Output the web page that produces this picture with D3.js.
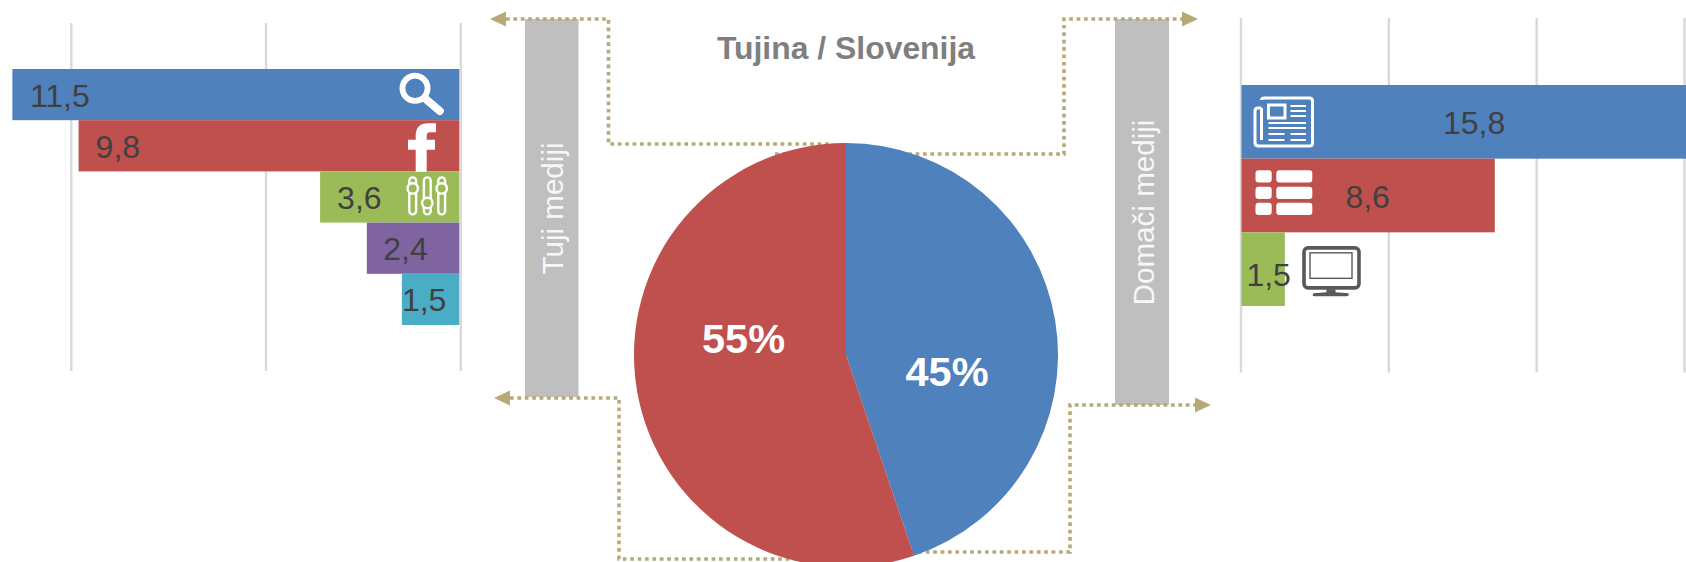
<!DOCTYPE html>
<html>
<head>
<meta charset="utf-8">
<script src="https://cdn.jsdelivr.net/npm/d3@7"></script>
<style>
html,body{margin:0;padding:0;background:#fff;overflow:hidden}
svg{display:block}
text{font-family:"Liberation Sans",Arial,sans-serif}
</style>
</head>
<body>
<svg id="c" width="1686" height="562" viewBox="0 0 1686 562"></svg>
<script>
// ---- data ----
const titleText = "Tujina / Slovenija";
const foreignLabel = "Tuji mediji";
const domesticLabel = "Domači mediji";
const foreignCats = ["Iskalniki","Facebook","Drugo","Portali","Ostalo"];
const foreignVals = [11.5,9.8,3.6,2.4,1.5];
const domesticCats = ["Tisk","Splet","TV"];
const domesticVals = [15.8,8.6,1.5];
const pieNames = ["Slovenija","Tujina"];
const pieVals = [44.8,55.2];
const foreignTicks = [0,5,10];
const domesticTicks = [0,5,10,15];
const barColors = ["#4f81bd","#c0504d","#9bbb59","#8064a2","#4bacc6"];

const fmt = v => String(v.toFixed(1)).replace(".",",");
const svg = d3.select("#c");
const LINE = "#b5aa78", GRID = "#d9d9d9", TXT = "#404040", BOX = "#bfbfbf";

// ---- scales ----
const xL = d3.scaleLinear().domain([0,10]).range([460.3,70.8]);
const yL = d3.scaleBand().domain(foreignCats).range([69,325]);
const xR = d3.scaleLinear().domain([0,15]).range([1240.5,1684]);
const yR = d3.scaleBand().domain(domesticCats).range([85,306]);

// ---- grey boxes ----
svg.append("rect").attr("x",525).attr("y",19).attr("width",53.5).attr("height",378).attr("fill",BOX);
svg.append("rect").attr("x",1115).attr("y",19).attr("width",54).attr("height",386).attr("fill",BOX);

// ---- connector lines (over the boxes, behind the pie) ----
const connectors = [
  {pts:[[506,19],[608.5,19],[608.5,144],[830,144]], arrow:[490,506,19]},
  {pts:[[775,154],[1064,154],[1064,19],[1182,19]], arrow:[1198,1182,19]},
  {pts:[[510,398],[619,398],[619,559],[810,559]], arrow:[494,510,398]},
  {pts:[[800,552],[1070,552],[1070,405],[1195,405]], arrow:[1211,1195,405]}
];
const lineGen = d3.line();
svg.append("g").selectAll("path").data(connectors).join("path")
  .attr("d",d=>lineGen(d.pts)).attr("fill","none").attr("stroke",LINE)
  .attr("stroke-width",3.6).attr("stroke-dasharray","3.7 3.7");
svg.append("g").selectAll("path").data(connectors).join("path")
  .attr("d",d=>{const [tip,base,y]=d.arrow;return `M${tip},${y}L${base},${y-7.5}L${base},${y+7.5}Z`;})
  .attr("fill",LINE);

// ---- pie ----
const cx = 846, cy = 355, R = 212;
const pieG = svg.append("g").attr("transform",`translate(${cx},${cy})`);
const arcs = d3.pie().sort(null).value(d=>d)(pieVals);
const arc = d3.arc().innerRadius(0).outerRadius(R);
pieG.selectAll("path").data(arcs).join("path").attr("d",arc)
  .attr("fill",(d,i)=>barColors[i]);

const pieLabelPos = [[101,31],[-102.5,-2]];
pieG.selectAll("text").data(arcs).join("text")
  .attr("x",(d,i)=>pieLabelPos[i][0]).attr("y",(d,i)=>pieLabelPos[i][1])
  .attr("text-anchor","middle").attr("font-weight","bold").attr("font-size",41.5).attr("fill","#fff")
  .text(d=>Math.round(d.value)+"%");

// ---- title and box labels ----
svg.append("text").attr("x",846).attr("y",59).attr("text-anchor","middle")
  .attr("font-weight","bold").attr("font-size",31.9).attr("fill","#7f7f7f").text(titleText);
svg.append("text").attr("transform","translate(563,208.5) rotate(-90)").attr("text-anchor","middle")
  .attr("font-size",29.6).attr("fill","#f7f7f7").text(foreignLabel);
svg.append("text").attr("transform","translate(1154,212.5) rotate(-90)").attr("text-anchor","middle")
  .attr("font-size",29.6).attr("fill","#f7f7f7").text(domesticLabel);

// ---- gridlines via axes ----
function grid(x,ticks,top,bottom){
  const g = svg.append("g").attr("transform",`translate(0,${top})`)
    .call(d3.axisBottom(x).tickValues(ticks).tickSize(bottom-top).tickFormat(""));
  g.select(".domain").remove();
  g.selectAll("line").attr("stroke",GRID).attr("stroke-width",2.4);
}
grid(xL,foreignTicks,23,371);
grid(xR,domesticTicks,18,372.5);

// ---- left bars ----
const L = svg.append("g");
L.selectAll("rect").data(foreignVals).join("rect")
  .attr("x",d=>xL(d)).attr("width",d=>xL(0)-1-xL(d))
  .attr("y",(d,i)=>yL(foreignCats[i])).attr("height",yL.bandwidth())
  .attr("fill",(d,i)=>barColors[i]);
const insetL = [17.5,17,17,16.5,0];
const baseL = [37.5,38,37.5,37.5,37.5];
L.selectAll("text").data(foreignVals).join("text")
  .attr("x",(d,i)=>xL(d)+insetL[i]).attr("y",(d,i)=>yL(foreignCats[i])+baseL[i])
  .attr("font-size",32).attr("fill",TXT).text(fmt);

// ---- right bars ----
const Rg = svg.append("g");
Rg.selectAll("rect").data(domesticVals).join("rect")
  .attr("x",xR(0)+1).attr("width",d=>xR(d)-xR(0)-1)
  .attr("y",(d,i)=>yR(domesticCats[i])).attr("height",yR.bandwidth())
  .attr("fill",(d,i)=>barColors[i]);
const shiftR = [0,0,6];
const baseR = [49,49,54];
Rg.selectAll("text").data(domesticVals).join("text")
  .attr("x",(d,i)=>(xR(0)+xR(d))/2+shiftR[i]).attr("y",(d,i)=>yR(domesticCats[i])+baseR[i])
  .attr("text-anchor","middle").attr("font-size",32).attr("fill",TXT).text(fmt);

// ---- icons, placed relative to the bars ----
// search
const s = svg.append("g").attr("transform",`translate(${xL(0)},${yL(foreignCats[0])})`);
s.append("circle").attr("cx",-45.3).attr("cy",19.3).attr("r",12.6).attr("fill","none").attr("stroke","#fff").attr("stroke-width",5.8);
s.append("line").attr("x1",-34).attr("y1",30.5).attr("x2",-20.5).attr("y2",42).attr("stroke","#fff").attr("stroke-width",8).attr("stroke-linecap","round");
// facebook f
svg.append("g").attr("transform",`translate(${xL(0)},${yL(foreignCats[1])})`)
  .append("path").attr("fill","#fff")
  .attr("d","M-33.6,51.5V29.5H-25.3V19.5H-33.6V15.5Q-33.6,12 -30.3,12H-24.3V3H-32.3Q-44.6,3 -44.6,15.5V19.5H-52.3V29.5H-44.6V51.5Z");
// sliders
const m = svg.append("g").attr("transform",`translate(${xL(0)},${yL(foreignCats[2])})`);
[[-47.6,17],[-33,31.5],[-18.6,17]].forEach(([x,k])=>{
  m.append("rect").attr("x",x-3.4).attr("y",6).attr("width",6.8).attr("height",37).attr("rx",3.4)
    .attr("fill","none").attr("stroke","#fff").attr("stroke-width",2.4);
  m.append("circle").attr("cx",x).attr("cy",k).attr("r",5.2).attr("fill",barColors[2]).attr("stroke","#fff").attr("stroke-width",2.4);
});
// newspaper
const n = svg.append("g").attr("transform",`translate(${xR(0)},${yR(domesticCats[0])})`)
  .attr("fill","none").attr("stroke","#fff");
n.append("path").attr("stroke-width",3)
  .attr("d","M21,15Q21,13 24,13H69Q72,13 72,16V58Q72,61 69,61H18Q14.5,61 14.5,57.5V26Q14.5,23 17.5,23H21M21,23V55");
n.append("rect").attr("x",28).attr("y",20).attr("width",16.5).attr("height",13).attr("stroke-width",3);
[[50,65.5,21],[50,65.5,26],[50,65.5,31],[28,65.5,38],[28,65.5,43],[28,44,49],[50,65.5,49],[28,44,55],[50,65.5,55]]
  .forEach(([a,b,y])=>n.append("line").attr("x1",a).attr("x2",b).attr("y1",y).attr("y2",y).attr("stroke-width",2));
// table
const t = svg.append("g").attr("transform",`translate(${xR(0)},${yR(domesticCats[1])})`).attr("fill","#fff");
[11.5,28,44].forEach(y=>{
  t.append("rect").attr("x",15).attr("y",y).attr("width",16.2).attr("height",12.4).attr("rx",3);
  t.append("rect").attr("x",35.8).attr("y",y).attr("width",36).attr("height",12.4).attr("rx",3);
});
// monitor
const v = svg.append("g").attr("transform",`translate(${xR(0)},${yR(domesticCats[2])})`).attr("fill","none").attr("stroke","#595959");
v.append("rect").attr("x",63.5).attr("y",15.5).attr("width",55).attr("height",40).attr("rx",4).attr("stroke-width",3.6);
v.append("rect").attr("x",69.5).attr("y",20.5).attr("width",42).attr("height",25.5).attr("stroke-width",1.4);
v.append("path").attr("fill","#595959").attr("stroke","none")
  .attr("d","M86,57H95V60L108,61Q109,64 106,64H74Q71,64 73,61L86,60Z");
</script>
</body>
</html>
